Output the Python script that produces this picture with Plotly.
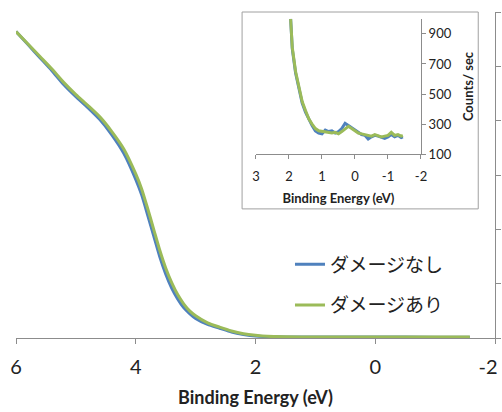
import plotly.graph_objects as go

# Main spectrum (binding energy in eV, intensity in arbitrary units)
main_be = [6.0, 5.8, 5.6, 5.4, 5.2, 5.0, 4.8, 4.6, 4.4, 4.2, 4.0, 3.9, 3.8, 3.7, 3.6, 3.5,
           3.4, 3.3, 3.2, 3.1, 3.0, 2.8, 2.6, 2.4, 2.2, 2.0, 1.8, 1.5, 1.0, 0.0, -1.0, -1.58]
main_no_damage = [5.64, 5.40, 5.16, 4.92, 4.66, 4.44, 4.24, 4.02, 3.74, 3.40, 2.92, 2.63, 2.26,
                  1.88, 1.50, 1.18, 0.92, 0.72, 0.56, 0.45, 0.36, 0.25, 0.18, 0.11, 0.065,
                  0.035, 0.025, 0.02, 0.018, 0.017, 0.016, 0.016]
main_damage = [5.64, 5.41, 5.18, 4.95, 4.70, 4.48, 4.28, 4.07, 3.80, 3.48, 3.02, 2.74, 2.38,
               2.00, 1.62, 1.29, 1.02, 0.80, 0.63, 0.50, 0.41, 0.28, 0.20, 0.13, 0.08,
               0.05, 0.03, 0.022, 0.019, 0.018, 0.017, 0.017]

# Inset (valence band edge), counts/sec
inset_be = [1.95, 1.9, 1.8, 1.7, 1.6, 1.5, 1.4, 1.3, 1.2, 1.1, 1.0, 0.9, 0.8, 0.7, 0.6, 0.5,
            0.4, 0.3, 0.2, 0.1, 0.0, -0.1, -0.2, -0.3, -0.4, -0.5, -0.6, -0.7, -0.8, -0.9,
            -1.0, -1.1, -1.2, -1.3, -1.4, -1.45]
inset_no_damage = [1000, 800, 640, 530, 440, 380, 330, 290, 255, 240, 235, 260, 250, 255, 240,
                   250, 270, 305, 290, 275, 260, 245, 230, 225, 200, 215, 225, 220, 210, 205,
                   215, 230, 215, 225, 210, 215]
inset_damage = [1000, 810, 650, 540, 450, 390, 335, 300, 270, 255, 250, 250, 245, 240, 245,
                235, 250, 270, 285, 270, 255, 240, 235, 230, 225, 220, 230, 225, 215, 220,
                225, 245, 225, 230, 220, 225]

series_names = ["ダメージなし", "ダメージあり"]
colors = ["#4F81BD", "#9BBB59"]

main_ticks = [6, 4, 2, 0, -2]
main_ticktext = ["6", "4", "2", "0", ""]
edge_tick = [-2]
edge_ticktext = ["-2"]
inset_xticks = [3, 2, 1, 0, -1, -2]
inset_xticktext = ["3", "2", "1", "0", "-1", "-2"]
inset_yticks = [100, 300, 500, 700, 900]

LAT = "Lato, 'Open Sans', sans-serif"
JP = "'Noto Sans CJK JP', sans-serif"
AX = "#8c8c8c"

fig = go.Figure()
for name, ys, col, grp in [(series_names[0], main_no_damage, colors[0], "a"),
                           (series_names[1], main_damage, colors[1], "b")]:
    fig.add_trace(go.Scatter(x=main_be, y=ys, mode="lines", name=name,
                             line=dict(color=col, width=3, shape="spline", smoothing=0.6),
                             legendgroup=grp, xaxis="x", yaxis="y"))
for ys, col in [(inset_no_damage, colors[0]), (inset_damage, colors[1])]:
    fig.add_trace(go.Scatter(x=inset_be, y=ys, mode="lines", showlegend=False,
                             line=dict(color=col, width=3),
                             xaxis="x2", yaxis="y2"))
# empty trace so the overlay axis carrying the edge label is drawn
fig.add_trace(go.Scatter(x=[], y=[], mode="lines", showlegend=False, hoverinfo="skip",
                         xaxis="x3", yaxis="y"))

tickfont_main = dict(family=LAT, size=20, color="#222")

fig.update_layout(
    width=502, height=412,
    margin=dict(l=16, r=7, t=12, b=74, autoexpand=False),
    paper_bgcolor="white", plot_bgcolor="rgba(0,0,0,0)",
    showlegend=True,
    legend=dict(x=0.572, y=0.284, xanchor="left", yanchor="top",
                font=dict(family=JP, size=19, color="#222"),
                bgcolor="rgba(0,0,0,0)", traceorder="grouped", tracegroupgap=13,
                itemwidth=30),
    xaxis=dict(range=[6, -2], tickvals=main_ticks, ticktext=main_ticktext,
               showgrid=False, zeroline=False, automargin=False,
               showline=True, linecolor=AX, linewidth=1, ticks="outside", ticklen=5,
               tickcolor=AX, tickfont=tickfont_main, ticklabelstandoff=6,
               title=dict(text="<b>Binding Energy (eV)</b>",
                          font=dict(family=LAT, size=18, color="#222"), standoff=14),
               domain=[0, 1]),
    xaxis3=dict(range=[6, -2], tickvals=edge_tick, ticktext=edge_ticktext,
                overlaying="x", anchor="y", side="bottom", showgrid=False, zeroline=False,
                automargin=False, showline=False, ticks="", ticklabelshift=7,
                ticklabelstandoff=15, ticklabeloverflow="allow", tickfont=tickfont_main),
    yaxis=dict(range=[0, 6], dtick=1, side="right", showgrid=False, zeroline=False,
               automargin=False,
               showline=True, linecolor=AX, linewidth=1, ticks="outside", ticklen=5,
               tickcolor=AX, showticklabels=False, domain=[0, 1]),
    xaxis2=dict(range=[3, -2], tickvals=inset_xticks, ticktext=inset_xticktext,
                anchor="y2", domain=[0.501, 0.8455], automargin=False,
                showgrid=False, zeroline=False, showline=True, linecolor=AX, linewidth=1,
                ticks="outside", ticklen=4, tickcolor=AX, ticklabelstandoff=6,
                tickfont=dict(family=LAT, size=13, color="#222"),
                title=dict(text="<b>Binding Energy (eV)</b>",
                           font=dict(family=LAT, size=13, color="#222"), standoff=11)),
    yaxis2=dict(range=[100, 1000], tickvals=inset_yticks, anchor="x2", side="right",
                domain=[0.564, 0.979], showgrid=False, zeroline=False, showline=True,
                automargin=False,
                linecolor=AX, linewidth=1, ticks="outside", ticklen=4, tickcolor=AX,
                tickfont=dict(family=LAT, size=13, color="#222"),
                title=dict(text="<b>Counts/ sec</b>",
                           font=dict(family=LAT, size=13, color="#222"), standoff=13)),
    shapes=[dict(type="rect", xref="paper", yref="paper", x0=0.472, x1=0.965, y0=0.396, y1=1.0,
                 line=dict(color="#a0a0a0", width=1), fillcolor="white", layer="below")],
)

fig.write_html("out.html", config={"displayModeBar": False},
               post_script="document.body.style.margin='0';document.body.style.overflow='hidden';")
